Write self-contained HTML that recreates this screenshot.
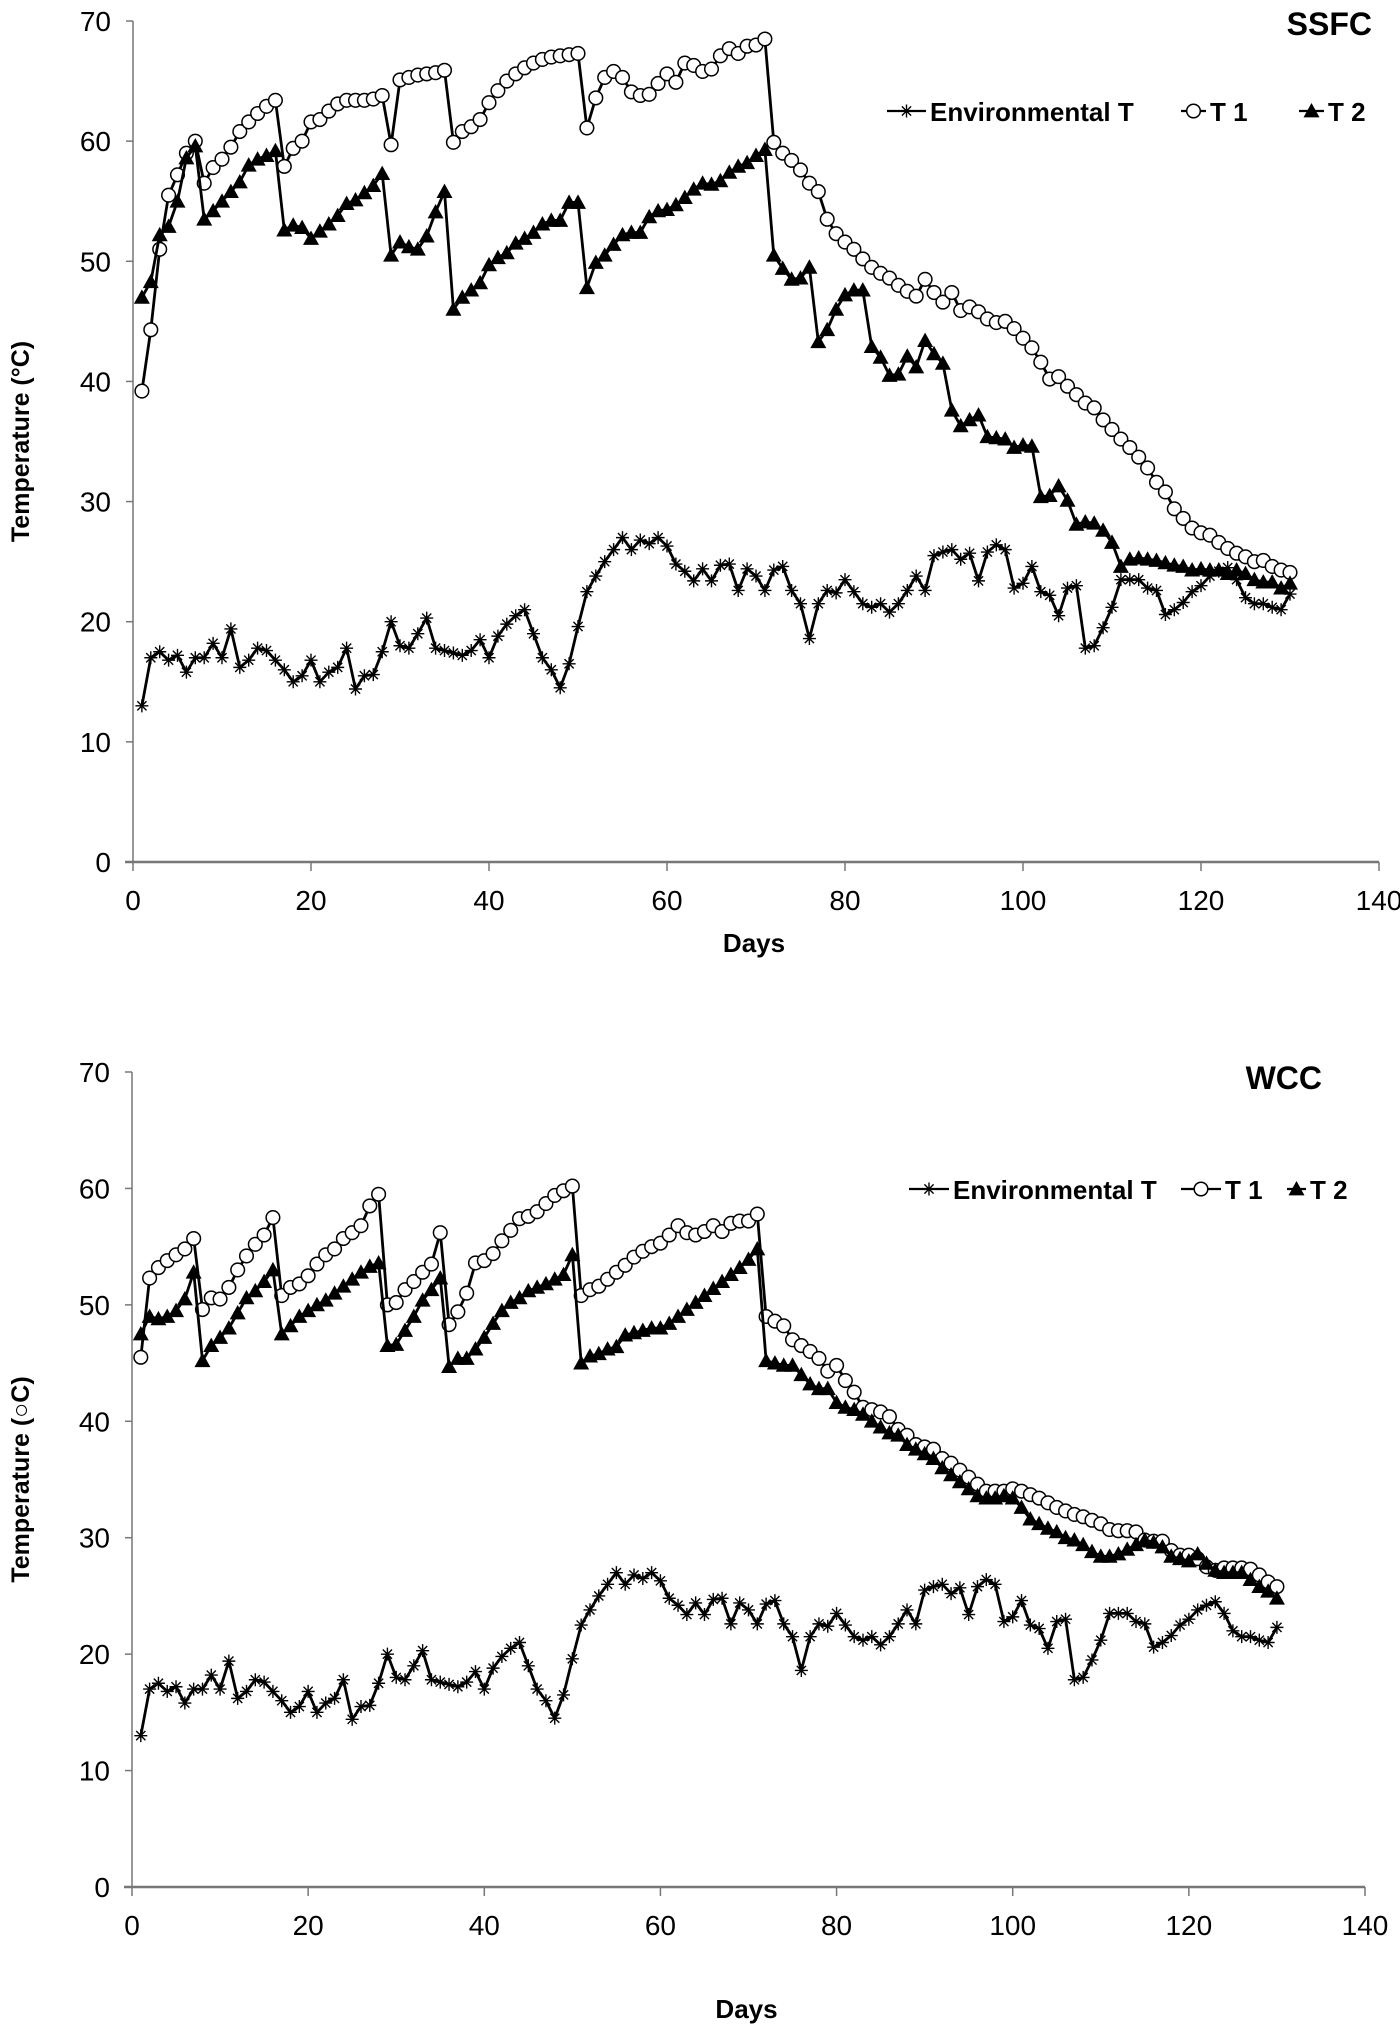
<!DOCTYPE html>
<html><head><meta charset="utf-8">
<style>
html,body{margin:0;padding:0;background:#fff;}
svg{display:block;font-family:"Liberation Sans",Arial,sans-serif;}
</style></head>
<body>
<svg id="chart" width="1400" height="2028" viewBox="0 0 1400 2028" xmlns="http://www.w3.org/2000/svg"></svg>
<script>
const days = Array.from({length:130},(_,i)=>i+1);
const xTicks = [0,20,40,60,80,100,120,140];
const yTicks = [0,10,20,30,40,50,60,70];
const envT = [13,17,17.5,16.8,17.2,15.8,17,17,18.2,17,19.4,16.2,16.8,17.8,17.6,16.8,16,15,15.5,16.8,15,15.8,16.2,17.8,14.4,15.5,15.6,17.5,20,18,17.8,19,20.3,17.8,17.6,17.4,17.2,17.6,18.5,17,18.8,19.8,20.5,21,19,17,16,14.5,16.5,19.6,22.5,23.8,25,26,27,26,26.8,26.5,27,26.3,24.8,24.2,23.4,24.4,23.4,24.7,24.8,22.6,24.4,23.8,22.6,24.3,24.6,22.6,21.5,18.6,21.5,22.6,22.4,23.5,22.5,21.5,21.2,21.5,20.8,21.5,22.6,23.8,22.6,25.5,25.8,26,25.2,25.7,23.4,25.8,26.4,26,22.8,23.2,24.6,22.5,22.2,20.5,22.8,23,17.8,18,19.5,21.2,23.5,23.5,23.5,22.8,22.6,20.6,21,21.6,22.5,23,23.8,24.2,24.5,23.5,22,21.5,21.5,21.2,21,22.3];
const ssfcT1 = [39.2,44.3,51,55.5,57.2,59,60,56.5,57.8,58.5,59.5,60.8,61.6,62.3,62.9,63.4,57.9,59.4,60,61.6,61.8,62.5,63.1,63.4,63.4,63.4,63.5,63.8,59.7,65.1,65.3,65.5,65.6,65.7,65.9,59.9,60.8,61.2,61.8,63.2,64.2,65,65.6,66.1,66.5,66.8,67,67.1,67.2,67.3,61.1,63.6,65.3,65.8,65.3,64.1,63.8,63.9,64.8,65.6,64.9,66.5,66.3,65.8,66,67.1,67.7,67.3,67.9,68,68.5,59.9,59,58.4,57.6,56.5,55.8,53.5,52.3,51.6,51,50.2,49.5,49,48.6,48,47.5,47.1,48.5,47.4,46.6,47.4,45.9,46.2,45.8,45.2,44.9,45,44.4,43.6,42.8,41.6,40.2,40.4,39.6,38.9,38.2,37.8,36.8,36,35.2,34.5,33.7,32.8,31.6,30.8,29.4,28.6,27.8,27.4,27.2,26.6,26.1,25.7,25.4,25,25.1,24.6,24.3,24.1];
const ssfcT2 = [47,48.3,52.2,52.9,55,58.6,59.6,53.5,54.2,55,55.8,56.6,58,58.5,58.8,59.2,52.6,53,52.8,51.9,52.5,53.1,53.8,54.8,55.1,55.7,56.3,57.3,50.5,51.6,51.2,51,52.1,54.1,55.8,46,47,47.6,48.2,49.7,50.3,50.7,51.5,51.9,52.4,53.1,53.4,53.4,54.9,54.9,47.8,49.9,50.5,51.4,52.2,52.4,52.4,53.7,54.2,54.3,54.7,55.3,56,56.5,56.4,56.7,57.4,57.9,58.2,58.8,59.3,50.5,49.4,48.5,48.6,49.5,43.3,44.3,46,47.2,47.6,47.6,42.9,42,40.5,40.6,42.1,41.2,43.4,42.3,41.5,37.6,36.3,36.8,37.2,35.4,35.3,35.2,34.5,34.7,34.6,30.4,30.5,31.3,30.1,28.1,28.3,28.2,27.6,26.6,24.6,25.2,25.3,25.2,25.1,24.9,24.7,24.6,24.3,24.4,24.3,24.3,24,24.3,24,23.5,23.3,23.3,22.8,23.2];
const wccT1 = [45.5,52.3,53.2,53.8,54.3,54.8,55.7,49.6,50.6,50.5,51.5,53,54.2,55.2,56,57.5,50.8,51.5,51.8,52.5,53.5,54.3,54.8,55.7,56.2,56.8,58.5,59.5,50,50.2,51.3,52,52.8,53.5,56.2,48.3,49.4,51,53.6,53.8,54.4,55.5,56.4,57.4,57.6,58,58.7,59.4,59.8,60.2,50.8,51.3,51.6,52.2,52.8,53.4,54.1,54.6,55,55.3,56,56.8,56.2,56,56.3,56.8,56.3,57,57.2,57.2,57.8,49,48.6,48.2,47,46.5,46,45.4,44.3,44.8,43.5,42.5,41.2,41,40.8,40.4,39.3,38.8,38,37.8,37.6,36.8,36.4,35.8,35.2,34.6,34,34,34,34.2,34,33.7,33.4,33,32.6,32.3,32,31.8,31.5,31.2,30.7,30.6,30.6,30.5,29.8,29.7,29.7,28.9,28.5,28.5,28.2,27.5,27.2,27.4,27.4,27.4,27.3,26.8,26.2,25.8];
const wccT2 = [47.5,49,48.8,49,49.5,50.5,52.8,45.2,46.5,47.2,48,49.3,50.6,51.2,52,53,47.5,48.2,49,49.5,50,50.4,51,51.6,52.2,52.8,53.3,53.6,46.5,46.6,47.8,49,50.4,51.3,52.3,44.7,45.4,45.4,46.2,47.2,48.4,49.5,50.2,50.6,51.2,51.5,51.8,52.2,52.6,54.3,45,45.6,45.8,46.2,46.4,47.4,47.6,47.8,48,48,48.4,49,49.6,50.2,50.8,51.4,52,52.6,53.2,53.9,54.8,45.2,45,44.8,44.8,44,43.2,42.8,42.8,41.6,41.2,41,40.6,40,39.5,39,38.8,38,37.6,37.2,36.8,36,35.4,34.8,34.2,33.6,33.4,33.4,33.6,33.4,32.6,31.6,31.2,30.8,30.5,30,29.8,29.4,28.8,28.4,28.4,28.6,29,29.4,29.8,29.6,29.2,28.4,28.2,28,28.6,27.8,27.2,27,27,27,26.4,25.8,25.4,24.8];

const svg = document.getElementById('chart');
const NS = 'http://www.w3.org/2000/svg';
function mk(tag, attrs, parent){
  const e = document.createElementNS(NS, tag);
  for (const k in attrs) e.setAttribute(k, attrs[k]);
  (parent||svg).appendChild(e);
  return e;
}
function star(g, x, y){
  const r = 6.5;
  let d = '';
  for (let a = 0; a < 4; a++){
    const ang = a*Math.PI/4;
    d += `M${x-r*Math.cos(ang)},${y-r*Math.sin(ang)}L${x+r*Math.cos(ang)},${y+r*Math.sin(ang)}`;
  }
  const p = mk('path', {d:d, stroke:'#000', 'stroke-width':1.4, fill:'none'}, g);
  
  
}
function circ(g, x, y){
  const c = mk('circle', {cx:x, cy:y, r:6.8, fill:'#fff', stroke:'#000', 'stroke-width':1.5}, g);
  
  
}
function tri(g, x, y){
  const s = 8;
  const p = mk('path', {d:`M${x},${y-s}L${x+s},${y+s*0.8}L${x-s},${y+s*0.8}Z`, fill:'#000'}, g);
  
  
}

function drawChart(cfg){
  const {x0, x1, y0, y1, title, titleX, titleY, env, t1, t2, legendY, leg, daysY, name} = cfg;
  const sx = v => x0 + (x1 - x0) * v / 140;
  const sy = v => y0 - (y0 - y1) * v / 70;
  const g = mk('g', {});
  
  
  const ya = mk('line', {x1:x0, y1:y1, x2:x0, y2:y0, stroke:'#777', 'stroke-width':1.5}, g);
  
  
  const xa = mk('line', {x1:x0-8, y1:y0, x2:x1, y2:y0, stroke:'#777', 'stroke-width':2.5}, g);
  
  
  yTicks.forEach(v => {
    const t = mk('line', {x1:x0-7, y1:sy(v), x2:x0, y2:sy(v), stroke:'#777', 'stroke-width':1.5}, g);
    
    
    const l = mk('text', {x:x0-22, y:sy(v)+10, 'text-anchor':'end', 'font-size':28, fill:'#000'}, g);
    l.textContent = v;
    
    
  });
  xTicks.forEach(v => {
    const t = mk('line', {x1:sx(v), y1:y0, x2:sx(v), y2:y0+9, stroke:'#777', 'stroke-width':1.5}, g);
    
    
    const l = mk('text', {x:sx(v), y:y0+48, 'text-anchor':'middle', 'font-size':28, fill:'#000'}, g);
    l.textContent = v;
    
    
  });
  const xt = mk('text', {x:(x0+x1)/2 - 2, y:daysY, 'text-anchor':'middle', 'font-size':26, 'font-weight':'bold'}, g);
  xt.textContent = 'Days';
  
  
  const cy = (y0 + y1) / 2;
  const yt = mk('text', {x:0, y:0, transform:`translate(29,${cy}) rotate(-90)`, 'text-anchor':'middle', 'font-size':25, 'font-weight':'bold'}, g);
  yt.textContent = cfg.ylabel;
  
  
  const tt = mk('text', {x:titleX, y:titleY, 'text-anchor':'end', 'font-size':32, 'font-weight':'bold'}, g);
  tt.textContent = title;
  
  

  const series = [[env, star, 'env-series'], [t1, circ, 't1-series'], [t2, tri, 't2-series']];
  series.forEach(([vals, mfn, nm]) => {
    const sg = mk('g', {}, g);
    
    
    const pts = vals.map((v, i) => `${sx(days[i]).toFixed(1)},${sy(v).toFixed(1)}`).join(' ');
    const pl = mk('polyline', {points:pts, fill:'none', stroke:'#000', 'stroke-width':2.8, 'stroke-linejoin':'round'}, sg);
    
    
    vals.forEach((v, i) => mfn(sg, sx(days[i]), sy(v)));
  });

  const lg = mk('g', {}, g);
  
  
  const entries = [['Environmental T', star], ['T 1', circ], ['T 2', tri]];
  entries.forEach(([label, mfn], i) => {
    const [lx, tx] = leg[i];
    const eg = mk('g', {}, lg);
    
    
    mk('line', {x1:lx, y1:legendY, x2:tx-4, y2:legendY, stroke:'#000', 'stroke-width':2.2}, eg);
    mfn(eg, (lx + tx - 4) / 2, legendY);
    const t = mk('text', {x:tx, y:legendY+10, 'font-size':26, 'font-weight':'bold'}, eg);
    t.textContent = label;
  });
}

drawChart({name:'ssfc-chart', x0:133, x1:1379, y0:862, y1:21, title:'SSFC', titleX:1372, titleY:35,
  env:envT, t1:ssfcT1, t2:ssfcT2, legendY:111, leg:[[887,930],[1181,1210],[1299,1328]],
  daysY:952, ylabel:'Temperature (°C)'});
drawChart({name:'wcc-chart', x0:132, x1:1365, y0:1887, y1:1072, title:'WCC', titleX:1322, titleY:1089,
  env:envT, t1:wccT1, t2:wccT2, legendY:1189, leg:[[909,953],[1181,1225],[1287,1310]],
  daysY:2018, ylabel:'Temperature (○C)'});
</script>
</body></html>
